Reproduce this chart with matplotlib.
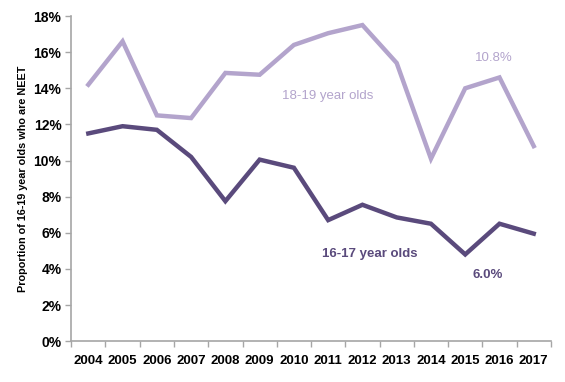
import numpy as np
import matplotlib
matplotlib.use("Agg")
import matplotlib.pyplot as plt
from matplotlib.ticker import FuncFormatter, FixedLocator

# === DATA ===
years = [2004, 2005, 2006, 2007, 2008, 2009, 2010, 2011, 2012, 2013, 2014, 2015, 2016, 2017]
age_18_19 = [14.2, 16.6, 12.5, 12.35, 14.85, 14.75, 16.4, 17.05, 17.5, 15.4, 10.1, 14.0, 14.6, 10.8]
age_16_17 = [11.5, 11.9, 11.7, 10.2, 7.75, 10.05, 9.6, 6.7, 7.55, 6.85, 6.5, 4.8, 6.5, 5.95]

light = "#b3a4cc"
dark = "#5a4a7c"
grey = "#a6a6a6"

plt.rcParams['font.family'] = ['Liberation Sans', 'DejaVu Sans']

fig = plt.figure(figsize=(5.65, 3.82), dpi=100)
ax = fig.add_axes([0.126, 0.107, 0.849, 0.851])

x = np.arange(len(years))
ax.plot(x, age_18_19, color=light, lw=3.2, solid_joinstyle="miter")
ax.plot(x, age_16_17, color=dark, lw=3.2, solid_joinstyle="miter")

# === LABELS ===
ax.text(7.0, 13.6, "18-19 year olds", color=light, fontsize=9.5, ha="center", va="center")
ax.text(11.84, 15.7, "10.8%", color=light, fontsize=9.5, ha="center", va="center")
ax.text(8.22, 4.82, "16-17 year olds", color=dark, fontsize=9.5, ha="center", va="center",
        fontweight="bold")
ax.text(11.66, 3.65, "6.0%", color=dark, fontsize=9.5, ha="center", va="center",
        fontweight="bold")

# === AXES ===
ax.set_xlim(-0.5, len(years) - 0.5)
ax.set_ylim(0, 18)
ax.set_yticks(np.arange(0, 19, 2))
ax.yaxis.set_major_formatter(FuncFormatter(lambda v, p: f"{v:.0f}%"))
ax.set_xticks(x)
ax.set_xticklabels([str(y) for y in years])
ax.xaxis.set_minor_locator(FixedLocator(np.arange(-0.5, len(years), 1.0)))
ax.tick_params(axis="x", which="major", length=0, pad=10, labelsize=9.5)
ax.tick_params(axis="x", which="minor", length=4, color=grey, width=1)
ax.tick_params(axis="y", length=4, color=grey, width=1, labelsize=10, pad=3)
for lbl in ax.get_xticklabels() + ax.get_yticklabels():
    lbl.set_fontweight("bold")

for s in ["top", "right"]:
    ax.spines[s].set_visible(False)
for s in ["left", "bottom"]:
    ax.spines[s].set_color(grey)
    ax.spines[s].set_linewidth(1.2)

ax.set_ylabel("Proportion of 16-19 year olds who are NEET", fontsize=7.8,
              fontweight="bold", labelpad=4)

fig.savefig("out.png", dpi=100)
